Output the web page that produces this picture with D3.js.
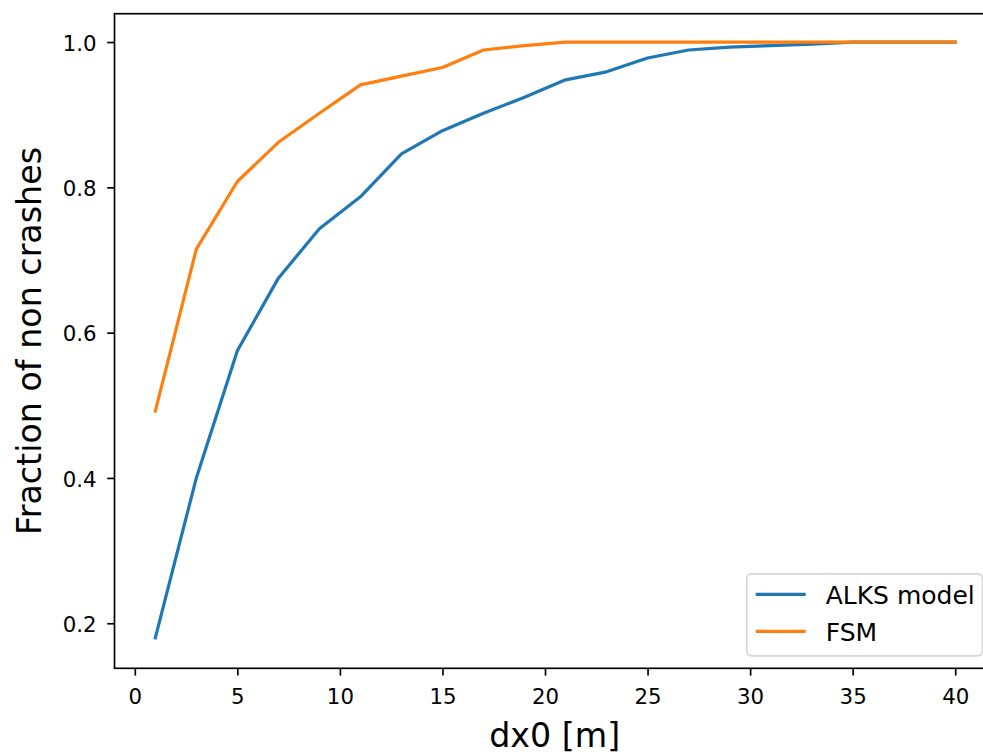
<!DOCTYPE html>
<html>
<head>
<meta charset="utf-8">
<script src="https://cdn.jsdelivr.net/npm/d3@7"></script>
<style>
  html, body { margin: 0; padding: 0; background: #fff; }
  svg { display: block; font-family: "DejaVu Sans", sans-serif; }
</style>
</head>
<body>
<svg id="chart" width="983" height="754"></svg>
<script>
// Initial longitudinal gap dx0 [m]
const dx0 = [1, 3, 5, 7, 9, 11, 13, 15, 17, 19, 21, 23, 25, 27, 29, 31, 33, 35, 37, 39, 40];

// Fraction of runs without a crash, per model
const alksModel = [0.180, 0.400, 0.575, 0.675, 0.743, 0.787, 0.846, 0.878, 0.902, 0.924, 0.948,
                   0.959, 0.978, 0.989, 0.993, 0.995, 0.997, 1.000, 1.000, 1.000, 1.000];
const fsm = [0.492, 0.715, 0.808, 0.862, 0.902, 0.941, 0.953, 0.965, 0.989, 0.995, 1.000,
             1.000, 1.000, 1.000, 1.000, 1.000, 1.000, 1.000, 1.000, 1.000, 1.000];

const seriesNames = ["ALKS model", "FSM"];
const seriesColors = ["#1f77b4", "#ff7f0e"];

const xTicks = [0, 5, 10, 15, 20, 25, 30, 35, 40];
const yTicks = [0.2, 0.4, 0.6, 0.8, 1.0];

const xLabel = "dx0 [m]";
const yLabel = "Fraction of non crashes";

// Plot box (the right edge lies just past the visible canvas)
const boxLeft = 114.5, boxRight = 995, boxTop = 13.7, boxBottom = 668.3;

const x = d3.scaleLinear().domain([-0.99, 41.94]).range([boxLeft, boxRight]);
const y = d3.scaleLinear().domain([0.138, 1.039]).range([boxBottom, boxTop]);

const svg = d3.select("#chart");

const tickFont = 21.3, labelFont = 33.3, legendFont = 25;
const spineW = 1.67, tickLen = 7.3, lineW = 3.2;

// Data lines
const series = [alksModel, fsm];
const line = d3.line().x((d, i) => x(dx0[i])).y(d => y(d));
const plot = svg.append("g");
series.forEach((vals, k) => {
  plot.append("path")
    .datum(vals)
    .attr("d", line)
    .attr("fill", "none")
    .attr("stroke", seriesColors[k])
    .attr("stroke-width", lineW)
    .attr("stroke-linejoin", "round")
    .attr("stroke-linecap", "square");
});

// Axes
const xAxis = svg.append("g")
  .attr("transform", `translate(0,${boxBottom})`)
  .call(d3.axisBottom(x).tickValues(xTicks).tickFormat(d3.format("d"))
        .tickSize(tickLen).tickSizeOuter(0));
xAxis.select(".domain").remove();
xAxis.selectAll(".tick line").attr("stroke", "#000").attr("stroke-width", spineW);
xAxis.selectAll(".tick text")
  .attr("y", 35.5).attr("dy", 0)
  .attr("font-size", tickFont).attr("fill", "#000")
  .attr("font-family", "DejaVu Sans");

const yAxis = svg.append("g")
  .attr("transform", `translate(${boxLeft},0)`)
  .call(d3.axisLeft(y).tickValues(yTicks).tickFormat(d3.format(".1f"))
        .tickSize(tickLen).tickSizeOuter(0));
yAxis.select(".domain").remove();
yAxis.selectAll(".tick line").attr("stroke", "#000").attr("stroke-width", spineW);
yAxis.selectAll(".tick text")
  .attr("x", -18).attr("dy", "0.38em")
  .attr("font-size", tickFont).attr("fill", "#000")
  .attr("font-family", "DejaVu Sans");

// Spines
svg.append("rect")
  .attr("x", boxLeft).attr("y", boxTop)
  .attr("width", boxRight - boxLeft).attr("height", boxBottom - boxTop)
  .attr("fill", "none").attr("stroke", "#000").attr("stroke-width", spineW);

// Axis labels
svg.append("text")
  .attr("x", (boxLeft + boxRight) / 2).attr("y", 747)
  .attr("text-anchor", "middle")
  .attr("font-size", labelFont).attr("fill", "#000")
  .text(xLabel);

svg.append("text")
  .attr("transform", `translate(41,${(boxTop + boxBottom) / 2}) rotate(-90)`)
  .attr("text-anchor", "middle")
  .attr("font-size", labelFont).attr("fill", "#000")
  .text(yLabel);

// Legend (lower right)
const lg = svg.append("g");
const lgW = 235.8, lgH = 82;
const lgX = boxRight - 12.5 - lgW, lgY = boxBottom - 12.5 - lgH;
lg.append("rect")
  .attr("x", lgX).attr("y", lgY).attr("width", lgW).attr("height", lgH)
  .attr("rx", 5).attr("ry", 5)
  .attr("fill", "#fff").attr("fill-opacity", 0.8)
  .attr("stroke", "#d6d6d6").attr("stroke-width", 1.67);
seriesNames.forEach((name, k) => {
  const cy = lgY + 20.5 + k * 37;
  lg.append("line")
    .attr("x1", lgX + 9).attr("x2", lgX + 59)
    .attr("y1", cy).attr("y2", cy)
    .attr("stroke", seriesColors[k]).attr("stroke-width", lineW);
  lg.append("text")
    .attr("x", lgX + 79).attr("y", cy + 9.3)
    .attr("font-size", legendFont).attr("fill", "#000")
    .text(name);
});
</script>
</body>
</html>
